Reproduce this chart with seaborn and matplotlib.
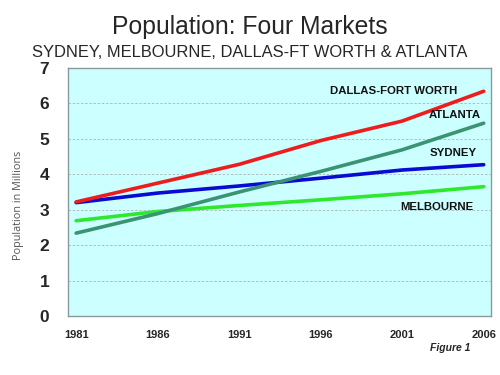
import matplotlib
matplotlib.use("Agg")
import matplotlib.pyplot as plt
import seaborn as sns
import pandas as pd

# population in millions
years = [1981, 1986, 1991, 1996, 2001, 2006]
dallas = [3.22, 3.75, 4.28, 4.95, 5.50, 6.34]
atlanta = [2.34, 2.89, 3.50, 4.08, 4.69, 5.44]
sydney = [3.20, 3.47, 3.67, 3.89, 4.12, 4.27]
melbourne = [2.69, 2.95, 3.12, 3.28, 3.45, 3.65]

markets = ["DALLAS-FORT WORTH", "ATLANTA", "SYDNEY", "MELBOURNE"]
colors = ["#ee1c1c", "#3a9473", "#0a0ad2", "#2ee82e"]

sns.set_style("white")
plt.rcParams["font.family"] = ["Liberation Sans", "DejaVu Sans"]

rows = []
for name, vals in zip(markets, [dallas, atlanta, sydney, melbourne]):
    for y, v in zip(years, vals):
        rows.append({"year": y, "pop": v, "market": name})
df = pd.DataFrame(rows)

fig = plt.figure(figsize=(5, 3.75), dpi=100)
ax = fig.add_axes([0.136, 0.157, 0.846, 0.662])
ax.set_facecolor("#ccffff")

sns.lineplot(data=df, x="year", y="pop", hue="market", hue_order=markets[::-1],
             palette=dict(zip(markets, colors)), linewidth=2.6, legend=False, ax=ax)

ax.set_xlim(1980.5, 2006.45)
ax.set_ylim(0, 7)
ax.set_xticks(years)
ax.set_yticks(range(0, 8))
ax.set_xticklabels([str(y) for y in years], fontsize=8, fontweight="bold")
ax.set_yticklabels([str(i) for i in range(8)], fontsize=12.5, fontweight="bold")
ax.tick_params(axis="x", length=0, pad=10)
ax.tick_params(axis="y", length=0, pad=17)
for lab in ax.get_yticklabels():
    lab.set_horizontalalignment("center")
for s in ax.spines.values():
    s.set_color("#8a9a9a")
    s.set_linewidth(1)
for v in range(1, 7):
    ax.axhline(v, color="#a8b8b8", linestyle=(0, (3, 2)), linewidth=0.6, zorder=0)

ax.set_xlabel("")
ax.set_ylabel("")
fig.text(0.038, 0.453, "Population in Millions", rotation=90, ha="center", va="center",
         fontsize=7.8, color="#555555", family=["Open Sans", "DejaVu Sans"])

# series labels
label_pos = [(2004.4, 6.36), (2005.85, 5.66), (2005.6, 4.6), (2005.4, 3.09)]
for name, (lx, ly) in zip(markets, label_pos):
    ax.text(lx, ly, name, ha="right", va="center", fontsize=8.2, fontweight="bold",
            color="#111111")

fig.text(0.5, 0.928, "Population: Four Markets", ha="center", va="center", fontsize=17.8)
fig.text(0.5, 0.859, "SYDNEY, MELBOURNE, DALLAS-FT WORTH & ATLANTA", ha="center",
         va="center", fontsize=11.9)
fig.text(0.94, 0.072, "Figure 1", ha="right", va="center", fontsize=7.5,
         fontweight="bold", style="italic")

fig.savefig("out.png", dpi=100)
